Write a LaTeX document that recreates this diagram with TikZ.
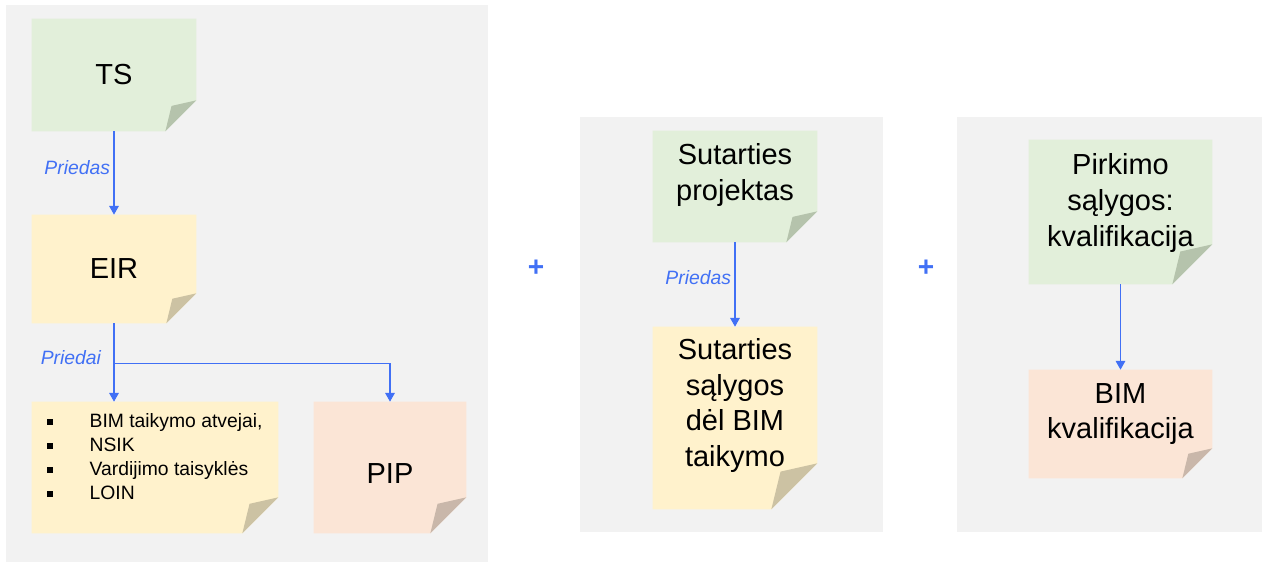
\documentclass[tikz,border=0pt]{standalone}
\usepackage{fontspec}
\setmainfont{Liberation Sans}
\usepackage{tikz}
\usetikzlibrary{positioning, arrows.meta, calc}
\pgfdeclarelayer{background}
\pgfsetlayers{background,main}
\definecolor{panelgray}{HTML}{F2F2F2}
\definecolor{notegreen}{HTML}{E2EFDA}
\definecolor{foldgreen}{HTML}{B5C3AC}
\definecolor{noteyellow}{HTML}{FFF2CC}
\definecolor{foldyellow}{HTML}{CCC2A3}
\definecolor{notesalmon}{HTML}{FBE5D6}
\definecolor{foldsalmon}{HTML}{C9B7AA}
\definecolor{linkblue}{HTML}{4170F5}
\newcommand{\NoteBack}[4]{%
  \fill[#2] (#1.north west) -- (#1.north east) -- ($(#1.south east)+(0,-#4)$)
    -- ($(#1.south east)+(-#4,0)$) -- (#1.south west) -- cycle;
  \fill[#3] ($(#1.south east)+(-#4,0)$) -- ($(#1.south east)+(-0.8*#4,-0.82*#4)$)
    -- ($(#1.south east)+(0,-#4)$) -- cycle;
}
\newcommand{\Blt}{\makebox[24pt][l]{\rule[1.5pt]{3.4pt}{3.4pt}}}
\tikzset{
    note/.style={rectangle, inner sep=0pt},
    big/.style={font=\fontsize{16.5}{20.3}\selectfont, align=center},
    small/.style={font=\fontsize{11}{13.6}\selectfont, align=left},
    lbl/.style={font=\fontsize{11}{13}\selectfont\itshape, text=linkblue, inner sep=2pt},
    plus/.style={font=\fontsize{16}{16}\selectfont\bfseries, text=linkblue},
    conn/.style={->, draw=linkblue, line width=0.6pt},
    >={Triangle[width=5.5pt,length=5pt]},
}

\begin{document}
\begin{tikzpicture}[x=0.02cm, y=-0.02cm]
    \useasboundingbox (0,0) rectangle (1265,563);

    % left panel
    \node[note, minimum width=3.28cm, minimum height=2.24cm, label={[big]center:TS}] (ts) at (114,75) {};
    \node[note, minimum width=3.28cm, minimum height=2.16cm, label={[big]center:EIR}] (eir) at (114,269) {};
    \node[note, minimum width=4.92cm, minimum height=2.62cm,
      label={[small, yshift=0.22cm]center:{\Blt BIM taikymo atvejai,\\ \Blt NSIK\\ \Blt Vardijimo taisyklės\\ \Blt LOIN}}] (lst) at (155,467.5) {};
    \node[note, minimum width=3.04cm, minimum height=2.62cm, label={[big, yshift=-0.13cm]center:PIP}] (pip) at (390,467.5) {};
    \coordinate (split) at ($(eir.south)+(0,40)$);

    \draw[conn] (ts) -- node[lbl, left, pos=0.43]{Priedas} (eir);
    \draw[conn] (eir) -- node[lbl, left=0.18cm, pos=0.44]{Priedai} (eir |- lst.north);
    \draw[conn] (split) -| (pip);

    % middle panel
    \node[note, minimum width=3.28cm, minimum height=2.22cm,
      label={[big, yshift=0.23cm]center:{Sutarties\\projektas}}] (spr) at (735,186.5) {};
    \node[note, minimum width=3.28cm, minimum height=3.64cm,
      label={[big, yshift=0.25cm]center:{Sutarties\\sąlygos\\dėl BIM\\taikymo}}] (ssl) at (735,418) {};
    \draw[conn] (spr) -- node[lbl, left, pos=0.42]{Priedas} (ssl);

    % right panel
    \node[note, minimum width=3.66cm, minimum height=2.88cm,
      label={[big, yshift=0.18cm]center:{Pirkimo\\sąlygos:\\kvalifikacija}}] (pks) at (1120.5,212) {};
    \node[note, minimum width=3.66cm, minimum height=2.16cm,
      label={[big, yshift=0.2cm]center:{BIM\\kvalifikacija}}] (bkv) at (1120.5,424) {};
    \draw[conn] (pks) -- (bkv);

    \node[plus] (plusa) at (536,268) {+};
    \node[plus] (plusb) at (926,268) {+};

    \begin{pgfonlayer}{background}
      \fill[panelgray] (6,5) rectangle (488,562);
      \fill[panelgray] (580,117) rectangle (883,532);
      \fill[panelgray] (957,117) rectangle (1262,532);
      \NoteBack{ts}{notegreen}{foldgreen}{31}
      \NoteBack{eir}{noteyellow}{foldyellow}{30}
      \NoteBack{lst}{noteyellow}{foldyellow}{36}
      \NoteBack{pip}{notesalmon}{foldsalmon}{36}
      \NoteBack{spr}{notegreen}{foldgreen}{31}
      \NoteBack{ssl}{noteyellow}{foldyellow}{46}
      \NoteBack{pks}{notegreen}{foldgreen}{40}
      \NoteBack{bkv}{notesalmon}{foldsalmon}{30}
    \end{pgfonlayer}
\end{tikzpicture}
\end{document}
